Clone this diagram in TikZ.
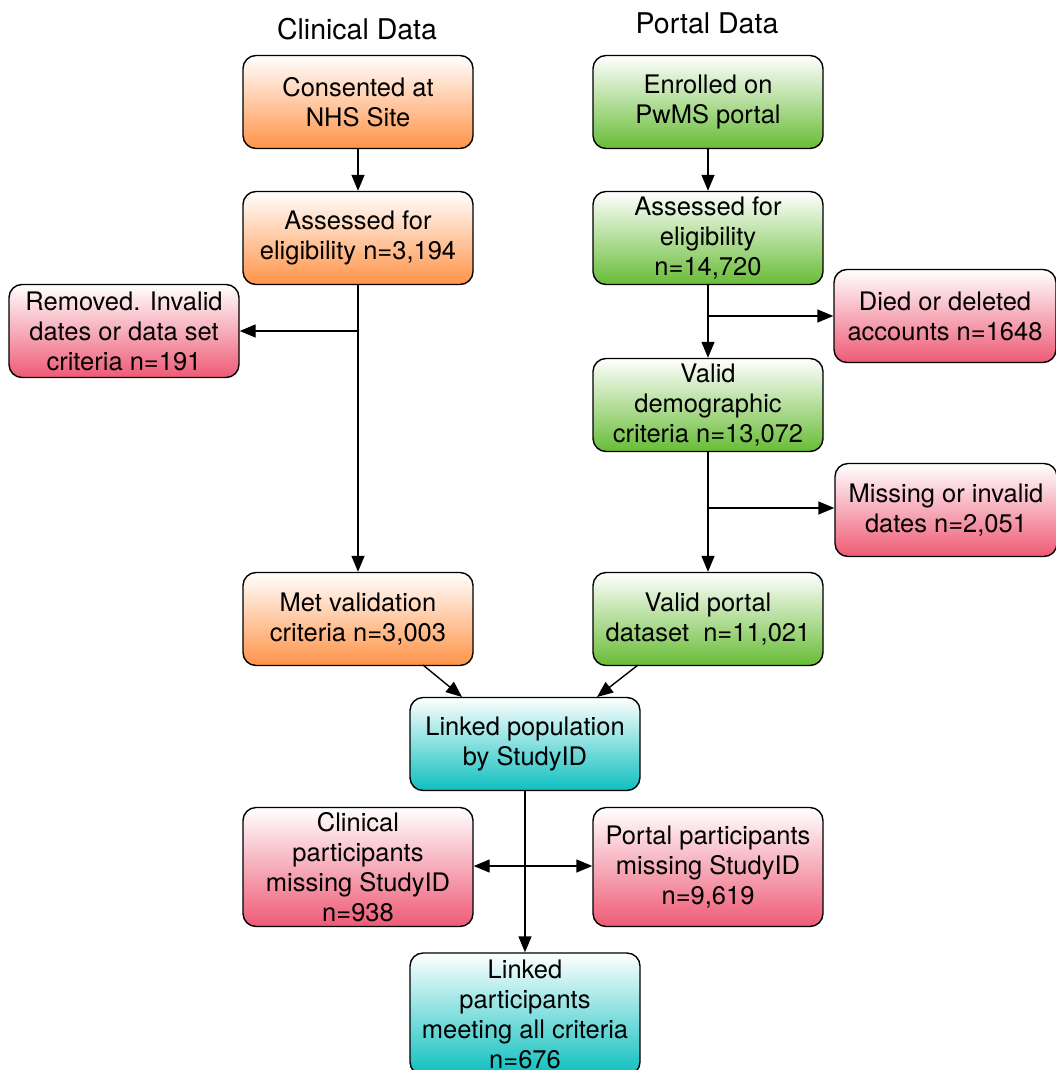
\documentclass[tikz,border=0pt]{standalone}
\usepackage{fontspec}
\setmainfont{TeX Gyre Heros}
\usetikzlibrary{arrows.meta}
\definecolor{orb}{HTML}{FF9348}
\definecolor{grb}{HTML}{68BC36}
\definecolor{rdb}{HTML}{EE5A75}
\definecolor{tlb}{HTML}{0EBFBF}
\tikzset{
  box/.style={draw=black, line width=1.4pt, rounded corners=13pt, minimum width=230pt, minimum height=93pt,
    align=center, inner sep=0pt, font=\fontsize{25.5}{30}\selectfont, text=black},
  orbox/.style={box, top color=white, bottom color=orb},
  grbox/.style={box, top color=white, bottom color=grb},
  rdbox/.style={box, top color=white, bottom color=rdb},
  tlbox/.style={box, top color=white, bottom color=tlb},
  arr/.style={line width=1.4pt, -{Triangle[length=16pt,width=13pt]}},
  ttl/.style={font=\fontsize{28.5}{30}\selectfont}
}
\begin{document}
\begin{tikzpicture}[x=1pt,y=-1pt]
\clip (0,0) rectangle (1056,1070);
\useasboundingbox (0,0) rectangle (1056,1070);
\node[ttl] (t1) at (357,29) {Clinical Data};
\node[ttl] (t2) at (707,23) {Portal Data};

\node[orbox] (cons) at (358,102) {Consented at\\NHS Site};
\node[orbox] (acl) at (358,238) {Assessed for\\eligibility n=3,194};
\node[rdbox] (rem) at (124,331) {Removed. Invalid\\dates or data set\\criteria n=191};
\node[orbox] (met) at (358,619) {Met validation\\criteria n=3,003};

\node[grbox] (enr) at (708,102) {Enrolled on\\PwMS portal};
\node[grbox] (apo) at (708,238) {Assessed for\\eligibility\\n=14,720};
\node[rdbox, minimum width=222pt] (died) at (945,316) {Died or deleted\\accounts n=1648};
\node[grbox] (vdem) at (708,405) {Valid\\demographic\\criteria n=13,072};
\node[rdbox, minimum width=222pt] (miss) at (946,510) {Missing or invalid\\dates n=2,051};
\node[grbox] (vpor) at (708,619) {Valid portal\\dataset\ \ n=11,021};

\node[tlbox] (lpop) at (525,744) {Linked population\\by StudyID};
\node[rdbox, minimum height=119pt] (cmis) at (358,867) {Clinical\\participants\\missing StudyID\\n=938};
\node[rdbox, minimum height=119pt] (pmis) at (708,867) {Portal participants\\missing StudyID\\n=9,619};
\node[tlbox, minimum height=122pt] (lpar) at (525,1014) {Linked\\participants\\meeting all criteria\\n=676};

\draw[arr] (cons) -- (acl);
\draw[arr] (acl) -- (met);
\coordinate (b1) at (358,331);
\draw[arr] (b1) -- (rem.east |- b1);

\draw[arr] (enr) -- (apo);
\draw[arr] (apo) -- (vdem);
\coordinate (b2) at (708,316);
\draw[arr] (b2) -- (died.west |- b2);
\draw[arr] (vdem) -- (vpor);
\coordinate (b3) at (708,508);
\draw[arr] (b3) -- (miss.west |- b3);

\coordinate (m1) at (423,665);
\coordinate (m2) at (462,697);
\draw[arr] (m1) -- (m2);
\coordinate (v1) at (638,665);
\coordinate (v2) at (597,697);
\draw[arr] (v1) -- (v2);

\draw[arr] (lpop) -- (lpar);
\coordinate (b4) at (525,866);
\draw[arr] (b4) -- (cmis.east |- b4);
\draw[arr] (b4) -- (pmis.west |- b4);
\end{tikzpicture}
\end{document}
